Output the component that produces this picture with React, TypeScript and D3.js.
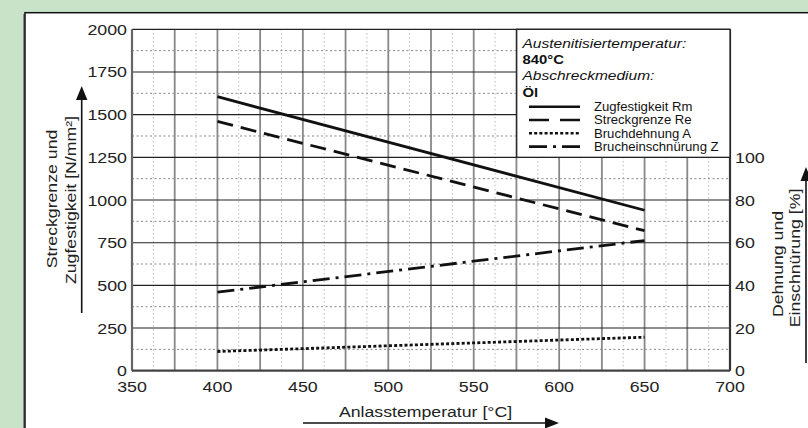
import React from "react";
import * as d3 from "d3";

const temps = [400, 650];
const zugfestigkeitRm = [1605, 940];
const streckgrenzeRe = [1460, 820];
const bruchdehnungA = [9, 15.7];
const brucheinschnuerungZ = [36.8, 61];

const xTicks = [350, 400, 450, 500, 550, 600, 650, 700];
const yLeftTicks = [0, 250, 500, 750, 1000, 1250, 1500, 1750, 2000];
const yRightTicks = [0, 20, 40, 60, 80, 100];

const legendItems = [
  { label: "Zugfestigkeit Rm", dash: "none" },
  { label: "Streckgrenze Re", dash: "20,11" },
  { label: "Bruchdehnung A", dash: "3,2.2" },
  { label: "Brucheinschnürung Z", dash: "18,6,3,6" },
];

const W = 808;
const H = 428;
const FONT = "'Liberation Sans', Arial, sans-serif";

type TProps = {
  x: number;
  y: number;
  sx: number;
  rot?: number;
  anchor?: "start" | "middle" | "end";
  children: React.ReactNode;
  [k: string]: any;
};

function T({ x, y, sx, rot = 0, anchor = "start", children, ...rest }: TProps) {
  return (
    <text
      transform={`translate(${x},${y}) rotate(${rot}) scale(${sx},1)`}
      textAnchor={anchor}
      {...rest}
    >
      {children}
    </text>
  );
}

export default function App() {
  const x = d3.scaleLinear().domain([350, 700]).range([132, 730]);
  const yL = d3.scaleLinear().domain([0, 2000]).range([370.7, 29.3]);
  const yR = d3.scaleLinear().domain([0, 160]).range([370.7, 29.3]);

  const lineL = d3
    .line<[number, number]>()
    .x((d) => x(d[0]))
    .y((d) => yL(d[1]));
  const lineR = d3
    .line<[number, number]>()
    .x((d) => x(d[0]))
    .y((d) => yR(d[1]));

  const zip = (vals: number[]) => temps.map((t, i) => [t, vals[i]] as [number, number]);

  const majorV = d3.range(375, 700, 25);
  const minorV = d3.range(362.5, 700, 25);
  const majorH = d3.range(250, 2000, 250);
  const minorH = d3.range(125, 2000, 250);

  const [x0, x1] = x.range();
  const [yb, yt] = yL.range();

  const legX0 = 516.7;
  const legY1 = yL(1250);

  return (
    <svg width={W} height={H} style={{ position: "absolute", left: 0, top: 0, display: "block" }}>
      <rect x={0} y={0} width={W} height={H} fill="#c8e3c8" />
      <line x1={24} y1={14} x2={24} y2={H} stroke="#888" strokeWidth={2} />
      <rect x={25} y={12.7} width={W + 20} height={H + 20} fill="#fff" stroke="#111" strokeWidth={1.5} />

      {/* minor grid */}
      {minorV.map((v) => (
        <line key={"mv" + v} x1={x(v)} x2={x(v)} y1={yt} y2={yb} stroke="#999" strokeWidth={1} strokeDasharray="1,3" />
      ))}
      {minorH.map((v) => (
        <line key={"mh" + v} x1={x0} x2={x1} y1={yL(v)} y2={yL(v)} stroke="#888" strokeWidth={1} strokeDasharray="2,2.5" />
      ))}
      {/* major grid */}
      {majorV.map((v) => (
        <line key={"MV" + v} x1={x(v)} x2={x(v)} y1={yt} y2={yb} stroke="#888" strokeWidth={1.8} />
      ))}
      {majorH.map((v) => (
        <line key={"MH" + v} x1={x0} x2={x1} y1={yL(v)} y2={yL(v)} stroke="#222" strokeWidth={1.1} />
      ))}
      {/* frame */}
      <line x1={x0} x2={x1} y1={yt} y2={yt} stroke="#222" strokeWidth={1.3} />
      <line x1={x0} x2={x0} y1={yt} y2={yb} stroke="#666" strokeWidth={2.2} />
      <line x1={x1} x2={x1} y1={yt} y2={yb} stroke="#333" strokeWidth={2.2} />
      <line x1={x0} x2={x1} y1={yb} y2={yb} stroke="#444" strokeWidth={2.2} />

      {/* data */}
      <path d={lineL(zip(zugfestigkeitRm)) || ""} fill="none" stroke="#111" strokeWidth={2.8} />
      <path d={lineL(zip(streckgrenzeRe)) || ""} fill="none" stroke="#111" strokeWidth={2.8} strokeDasharray="16,8" />
      <path d={lineR(zip(bruchdehnungA)) || ""} fill="none" stroke="#111" strokeWidth={2.8} strokeDasharray="3,2.2" />
      <path d={lineR(zip(brucheinschnuerungZ)) || ""} fill="none" stroke="#111" strokeWidth={2.8} strokeDasharray="17,6,3,6" />

      {/* legend */}
      <rect x={legX0} y={yt} width={x1 - legX0} height={legY1 - yt} fill="#fff" stroke="#222" strokeWidth={1.3} />
      <g fontFamily={FONT} fill="#111">
        <T x={522.5} y={47.5} sx={1.15} fontSize={13.5} fontStyle="italic">Austenitisiertemperatur:</T>
        <T x={522.5} y={64} sx={1.1} fontSize={13.5} fontWeight="bold">840°C</T>
        <T x={522.5} y={80} sx={1.15} fontSize={13.5} fontStyle="italic">Abschreckmedium:</T>
        <T x={522.5} y={96.5} sx={1.1} fontSize={13.5} fontWeight="bold">Öl</T>
        {legendItems.map((it, i) => {
          const yy = 106.7 + i * 13.3;
          return (
            <g key={it.label}>
              <line x1={529} x2={580} y1={yy} y2={yy} stroke="#111" strokeWidth={2.6} strokeDasharray={it.dash} />
              <T x={594} y={yy + 4.3} sx={1.05} fontSize={12.5}>{it.label}</T>
            </g>
          );
        })}
      </g>

      {/* ticks */}
      <g fontFamily={FONT} fontSize={15.5} fill="#222">
        {yLeftTicks.map((t) => (
          <T key={"yl" + t} x={127} y={yL(t) + 5.5} sx={1.15} anchor="end">{t}</T>
        ))}
        {xTicks.map((t) => (
          <T key={"xt" + t} x={x(t)} y={392} sx={1.15} anchor="middle">{t}</T>
        ))}
        {yRightTicks.map((t) => (
          <T key={"yr" + t} x={735} y={yR(t) + 5.5} sx={1.15} anchor="start">{t}</T>
        ))}
      </g>

      {/* axis titles */}
      <g fontFamily={FONT} fontSize={15} fill="#222">
        <T x={57} y={199} rot={-90} sx={1.18} anchor="middle">Streckgrenze und</T>
        <T x={76} y={200} rot={-90} sx={1.18} anchor="middle">Zugfestigkeit [N/mm²]</T>
        <T x={783} y={264} rot={-90} sx={1.18} anchor="middle">Dehnung und</T>
        <T x={799.5} y={258} rot={-90} sx={1.18} anchor="middle">Einschnürung [%]</T>
        <T x={425.5} y={417} sx={1.18} anchor="middle">Anlasstemperatur [°C]</T>
      </g>

      {/* arrows */}
      <line x1={81.7} x2={81.7} y1={313} y2={96} stroke="#111" strokeWidth={1.6} />
      <path d="M81.7,86 L76,100 L87.4,100 Z" fill="#111" />
      <line x1={806} x2={806} y1={363} y2={178} stroke="#111" strokeWidth={1.6} />
      <path d="M806,167 L800.5,181 L811.5,181 Z" fill="#111" />
      <line x1={303} x2={548} y1={423} y2={423} stroke="#111" strokeWidth={1.6} />
      <path d="M559,423 L545,417.5 L545,428.5 Z" fill="#111" />
    </svg>
  );
}
